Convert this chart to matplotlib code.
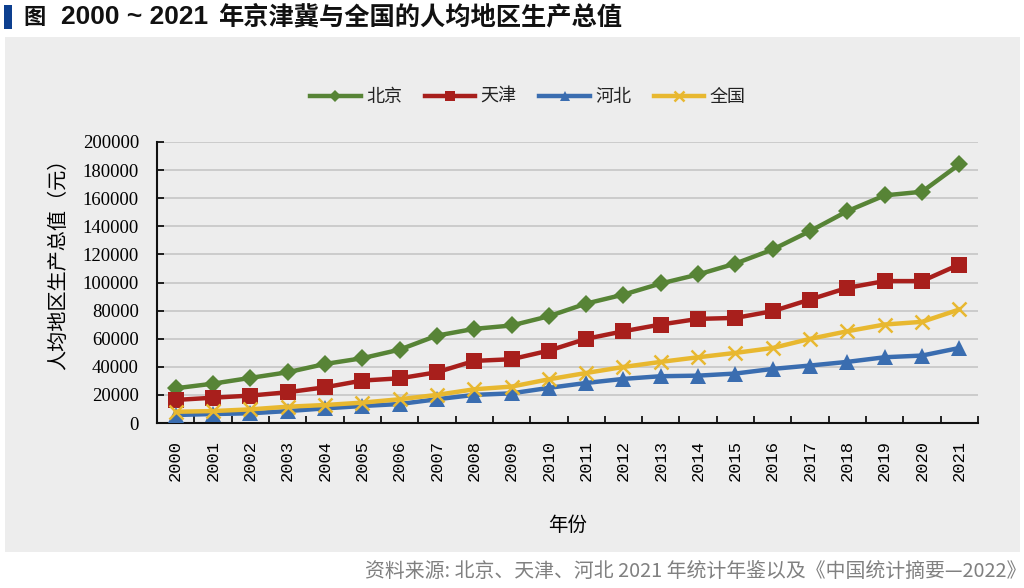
import matplotlib
matplotlib.use("Agg")
import matplotlib.pyplot as plt
from matplotlib.patches import Rectangle

years = [str(y) for y in range(2000, 2022)]
beijing = [24700, 28000, 32100, 36100, 42000, 46100, 52200, 62200, 67000, 69400, 76000,
           85000, 91400, 99300, 105700, 113500, 123500, 136600, 150800, 162000, 164600, 184100]
tianjin = [16400, 18000, 19500, 21900, 25400, 30200, 31800, 36100, 44200, 45400, 51500,
           59900, 65300, 70100, 74100, 74800, 79600, 87900, 96200, 101000, 101000, 112800]
hebei = [5700, 6400, 6900, 8500, 10400, 12100, 13500, 16900, 20000, 21100, 25000,
         28500, 31400, 33300, 33700, 35200, 38500, 40900, 43500, 46800, 48000, 53400]
national = [8000, 8500, 9700, 11600, 12800, 14500, 16900, 20000, 24000, 25900, 31100,
            35600, 39900, 43500, 46800, 49900, 53400, 59900, 65300, 70100, 72000, 80800]
series_names = ["北京", "天津", "河北", "全国"]
yticks = list(range(0, 200001, 20000))

CJK = ["Noto Sans CJK SC", "DejaVu Sans"]
plt.rcParams['font.family'] = CJK

W, H = 1024, 588
def fx(px): return px / W
def fy(py): return 1 - py / H

fig = plt.figure(figsize=(10.24, 5.88), dpi=100)
fig.patch.set_facecolor("white")
# grey panel
fig.add_artist(Rectangle((fx(5), fy(552)), fx(1015), (552 - 37) / H,
                         transform=fig.transFigure, facecolor="#ededed", edgecolor="none", zorder=0))
# blue marker in title
fig.add_artist(Rectangle((fx(4), fy(29)), fx(8), 24 / H,
                         transform=fig.transFigure, facecolor="#0d3f8f", edgecolor="none"))
fig.text(fx(23), fy(17), "图", fontsize=16, fontweight="bold", ha="left", va="center",
         color="#111111", family=CJK)
fig.text(fx(61), fy(17), "2000 ~ 2021", fontsize=19, fontweight="bold", ha="left", va="center",
         color="#111111", family=["Liberation Sans", "DejaVu Sans"])
fig.text(fx(218), fy(17), "年京津冀与全国的人均地区生产总值", fontsize=18.2, fontweight="bold",
         ha="left", va="center", color="#111111", family=CJK)
fig.text(fx(1026), fy(571), "资料来源: 北京、天津、河北 2021 年统计年鉴以及《中国统计摘要—2022》",
         fontsize=14.3, fontweight="light", ha="right", va="center", color="#808080", family=CJK)

ax = fig.add_axes([fx(157), fy(423), (978 - 157) / W, (423 - 142) / H])
ax.set_facecolor("none")
x = list(range(len(years)))

styles = [
    (beijing, "#578436", "D", 9),
    (tianjin, "#a81f1c", "s", 11),
    (hebei, "#3a6db0", "^", 11),
    (national, "#e8b830", "x", 10),
]
for (vals, col, mk, ms), name in zip(styles, series_names):
    kw = dict(color=col, lw=3.2, marker=mk, markersize=ms, label=name, zorder=3)
    kw["markeredgewidth"] = 1.8 if mk == "x" else 0
    ax.plot(x, vals, **kw)

ax.set_xlim(-0.5, len(years) - 0.5)
ax.set_ylim(0, 200000)
ax.set_yticks(yticks)
ax.set_yticklabels([str(v) for v in yticks], family="Liberation Serif", fontsize=13.5)
ax.set_xticks(x)
ax.set_xticklabels(years, rotation=90, family="Liberation Mono", fontsize=12.3)
ax.set_xticks([i - 0.5 for i in range(len(years) + 1)], minor=True)
ax.tick_params(axis="x", which="major", length=0, pad=12)
ax.tick_params(axis="x", which="minor", direction="in", length=5, width=1.2)
ax.tick_params(axis="y", direction="in", length=5, width=1.2, pad=13)
ax.grid(axis="y", color="#c9c9c9", lw=1.3, zorder=1)
ax.set_axisbelow(True)
for s in ["top", "right"]:
    ax.spines[s].set_visible(False)
for s in ["left", "bottom"]:
    ax.spines[s].set_linewidth(1.5)
    ax.spines[s].set_color("#111111")

ax.set_ylabel("人均地区生产总值（元）", fontsize=14.5, family=CJK)
ax.yaxis.set_label_coords((69 - 157) / 821, (423 - 259) / 281)
ax.set_xlabel("年份", fontsize=14, family=CJK)
ax.xaxis.set_label_coords(0.5, (423 - 515) / 281)

leg = ax.legend(loc="center", bbox_to_anchor=(fx(528), fy(97)), bbox_transform=fig.transFigure,
                ncol=4, frameon=False, fontsize=13, handlelength=2.8, columnspacing=1.25,
                handletextpad=0.3, markerscale=0.7)
for t in leg.get_texts():
    t.set_color("#222222")

fig.savefig("out.png", dpi=100)
